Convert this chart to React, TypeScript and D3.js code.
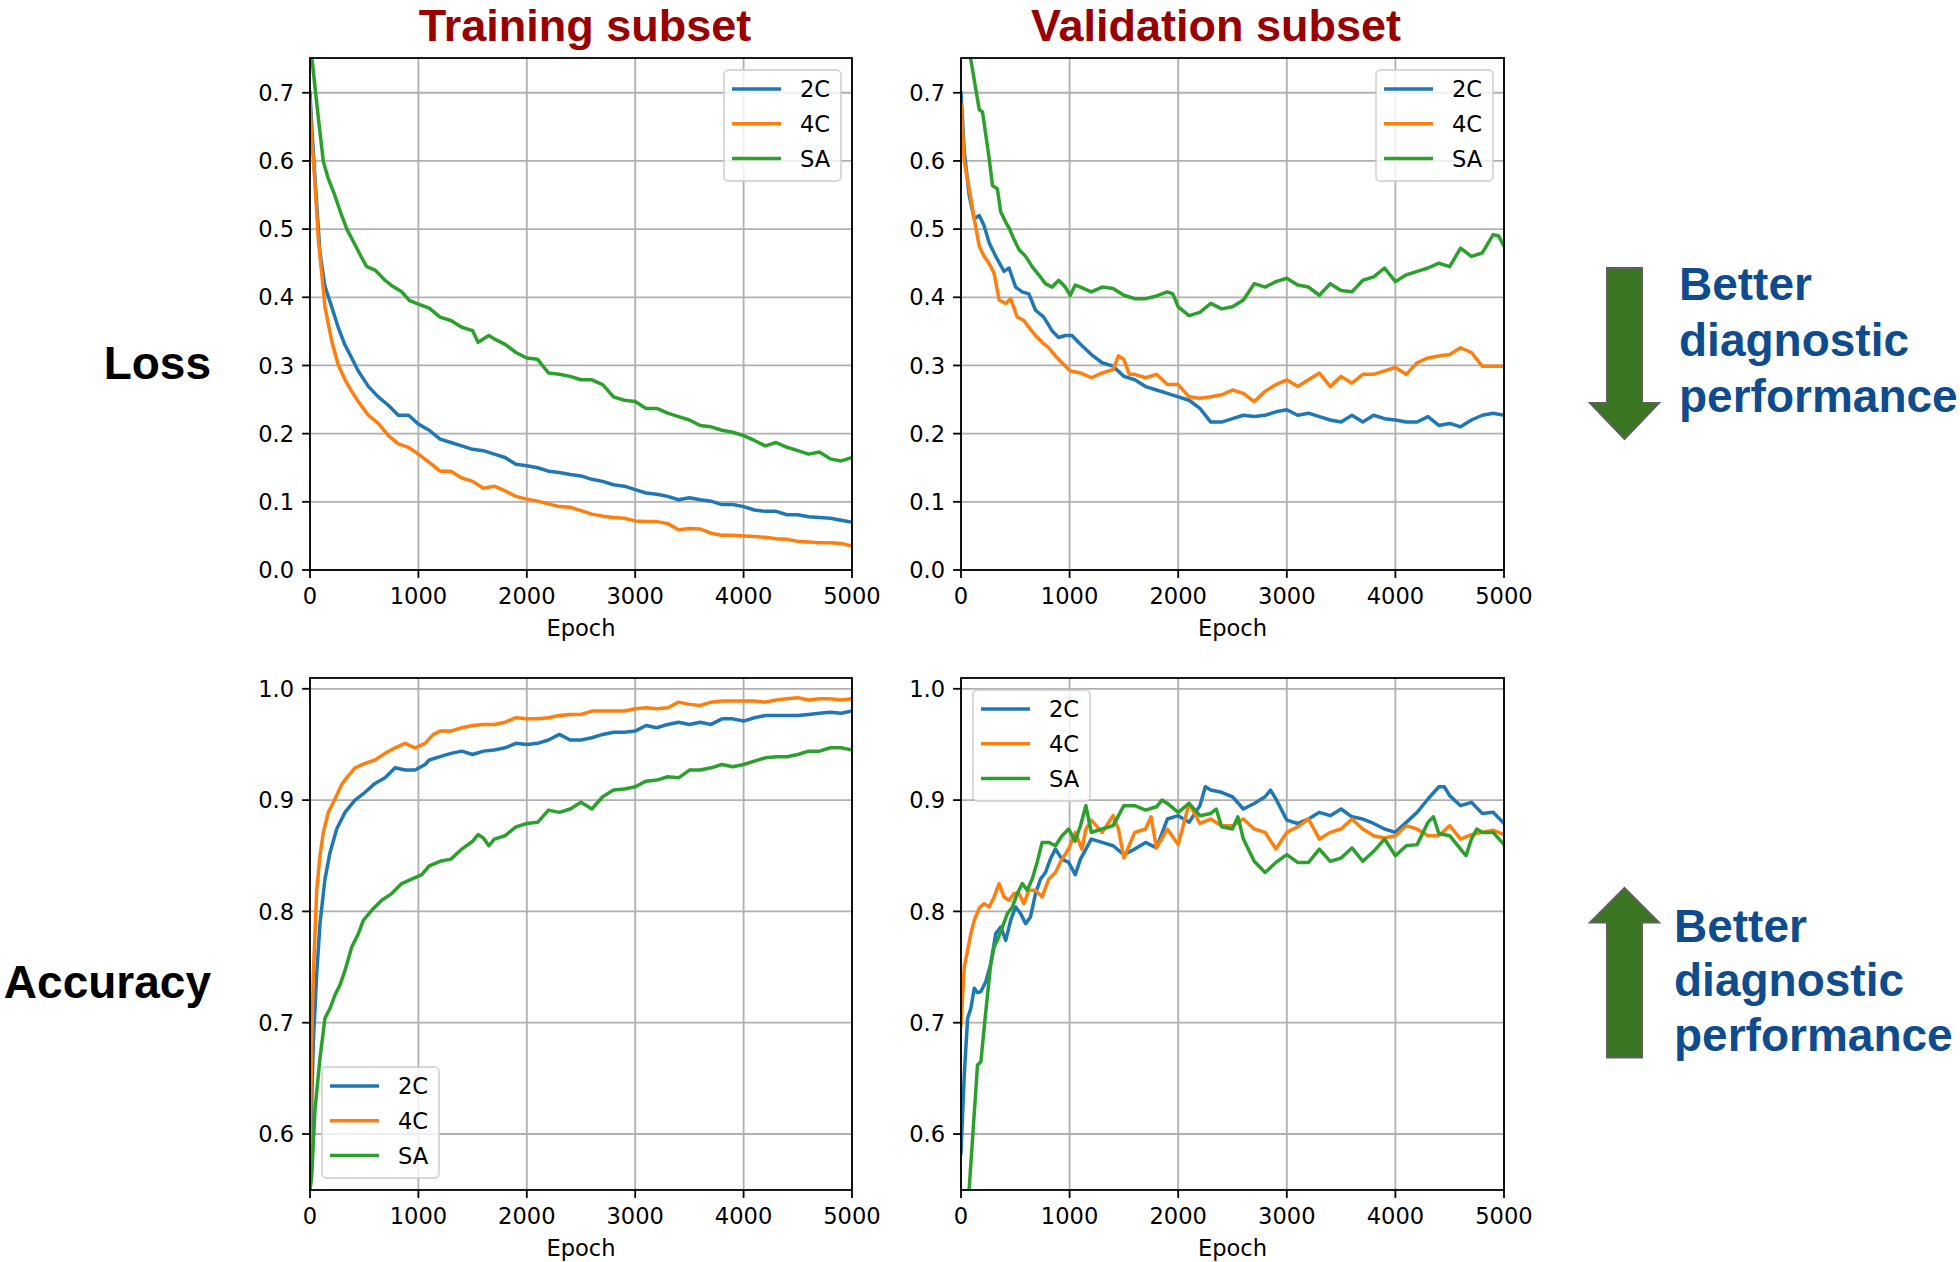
import React from "react";
import * as d3 from "d3";

type Pt = [number, number];

// ---- data ----
const epochTicks = [0, 1000, 2000, 3000, 4000, 5000];
const lossTicks = [0, 0.1, 0.2, 0.3, 0.4, 0.5, 0.6, 0.7];
const accTicks = [0.6, 0.7, 0.8, 0.9, 1.0];
const seriesNames = ["2C", "4C", "SA"];
const seriesColors = ["#1f77b4", "#ff7f0e", "#2ca02c"];
const columnTitles = ["Training subset", "Validation subset"];
const rowTitles = ["Loss", "Accuracy"];
const noteLines = ["Better", "diagnostic", "performance"];

const trainLoss2C: Pt[] = [
  [0, 0.7], [20, 0.64], [46, 0.574], [92, 0.465], [138, 0.416], [200, 0.386], [260, 0.356], [320, 0.331],
  [385, 0.311], [445, 0.292], [540, 0.269], [630, 0.254], [720, 0.242], [815, 0.227], [910, 0.227], [1000, 0.214],
  [1100, 0.205], [1200, 0.192], [1300, 0.187], [1400, 0.182], [1500, 0.177], [1600, 0.175], [1700, 0.17],
  [1800, 0.165], [1900, 0.155], [2000, 0.153], [2100, 0.15], [2200, 0.145], [2300, 0.143], [2400, 0.14],
  [2500, 0.138], [2600, 0.133], [2700, 0.13], [2800, 0.125], [2900, 0.123], [3000, 0.118], [3100, 0.113],
  [3200, 0.111], [3300, 0.108], [3400, 0.103], [3500, 0.106], [3600, 0.103], [3700, 0.101], [3800, 0.096],
  [3900, 0.096], [4000, 0.093], [4100, 0.088], [4200, 0.086], [4300, 0.086], [4400, 0.081], [4500, 0.081],
  [4600, 0.078], [4700, 0.077], [4800, 0.076], [4900, 0.073], [5000, 0.07],
];
const trainLoss4C: Pt[] = [
  [0, 0.69], [15, 0.63], [31, 0.604], [77, 0.485], [138, 0.386], [200, 0.336], [260, 0.301], [323, 0.279],
  [385, 0.262], [446, 0.247], [538, 0.227], [630, 0.215], [723, 0.197], [815, 0.185], [908, 0.18], [1000, 0.17],
  [1100, 0.158], [1200, 0.145], [1300, 0.145], [1400, 0.135], [1500, 0.13], [1600, 0.12], [1700, 0.123],
  [1800, 0.116], [1900, 0.108], [2000, 0.104], [2100, 0.101], [2200, 0.097], [2300, 0.093], [2400, 0.092],
  [2500, 0.087], [2600, 0.082], [2700, 0.079], [2800, 0.077], [2900, 0.076], [3000, 0.072], [3100, 0.071],
  [3200, 0.071], [3300, 0.068], [3400, 0.059], [3500, 0.061], [3600, 0.06], [3700, 0.054], [3800, 0.051],
  [3900, 0.051], [4000, 0.05], [4100, 0.049], [4200, 0.048], [4300, 0.046], [4400, 0.045], [4500, 0.042],
  [4600, 0.041], [4700, 0.04], [4800, 0.04], [4900, 0.039], [5000, 0.035],
];
const trainLossSA: Pt[] = [
  [0, 0.76], [20, 0.747], [77, 0.663], [123, 0.599], [169, 0.574], [230, 0.549], [292, 0.52], [340, 0.5],
  [415, 0.477], [477, 0.458], [523, 0.445], [600, 0.44], [692, 0.425], [754, 0.417], [846, 0.408], [920, 0.395],
  [1000, 0.39], [1100, 0.384], [1200, 0.371], [1300, 0.366], [1400, 0.356], [1500, 0.351], [1550, 0.334],
  [1650, 0.344], [1700, 0.339], [1800, 0.331], [1900, 0.319], [2000, 0.311], [2100, 0.309], [2200, 0.289],
  [2300, 0.287], [2400, 0.284], [2500, 0.279], [2600, 0.279], [2700, 0.272], [2800, 0.254], [2900, 0.249],
  [3000, 0.247], [3100, 0.237], [3200, 0.237], [3300, 0.23], [3400, 0.225], [3500, 0.22], [3600, 0.212],
  [3700, 0.21], [3800, 0.205], [3900, 0.202], [4000, 0.197], [4100, 0.19], [4200, 0.182], [4300, 0.187],
  [4400, 0.18], [4500, 0.175], [4600, 0.17], [4700, 0.173], [4800, 0.163], [4900, 0.16], [5000, 0.165],
];

const valLoss2C: Pt[] = [
  [0, 0.7], [30, 0.614], [76, 0.549], [122, 0.515], [168, 0.52], [213, 0.505], [259, 0.48], [320, 0.46],
  [396, 0.438], [442, 0.443], [503, 0.415], [564, 0.408], [625, 0.405], [686, 0.381], [762, 0.371], [838, 0.351],
  [899, 0.341], [960, 0.344], [1021, 0.344], [1100, 0.331], [1200, 0.316], [1300, 0.304], [1400, 0.299],
  [1500, 0.284], [1600, 0.279], [1700, 0.269], [1800, 0.264], [1900, 0.259], [2000, 0.254], [2100, 0.249],
  [2200, 0.237], [2300, 0.217], [2400, 0.217], [2500, 0.222], [2600, 0.227], [2700, 0.225], [2800, 0.227],
  [2900, 0.232], [3000, 0.235], [3100, 0.227], [3200, 0.23], [3300, 0.225], [3400, 0.22], [3500, 0.217],
  [3600, 0.227], [3700, 0.217], [3800, 0.227], [3900, 0.222], [4000, 0.22], [4100, 0.217], [4200, 0.217],
  [4300, 0.225], [4400, 0.212], [4500, 0.215], [4600, 0.21], [4700, 0.22], [4800, 0.227], [4900, 0.23],
  [5000, 0.227],
];
const valLoss4C: Pt[] = [
  [0, 0.683], [30, 0.599], [76, 0.559], [122, 0.515], [168, 0.475], [213, 0.46], [259, 0.45], [305, 0.435],
  [351, 0.396], [412, 0.391], [457, 0.398], [518, 0.371], [579, 0.366], [625, 0.356], [686, 0.344], [747, 0.334],
  [808, 0.326], [869, 0.314], [930, 0.304], [1006, 0.292], [1100, 0.289], [1200, 0.282], [1300, 0.289],
  [1400, 0.294], [1450, 0.314], [1500, 0.309], [1550, 0.287], [1600, 0.287], [1700, 0.282], [1800, 0.287],
  [1900, 0.272], [2000, 0.272], [2100, 0.254], [2200, 0.252], [2300, 0.254], [2400, 0.257], [2500, 0.264],
  [2600, 0.259], [2700, 0.247], [2800, 0.262], [2900, 0.272], [3000, 0.279], [3100, 0.269], [3200, 0.279],
  [3300, 0.289], [3400, 0.269], [3500, 0.284], [3600, 0.274], [3700, 0.287], [3800, 0.287], [3900, 0.292],
  [4000, 0.297], [4100, 0.287], [4200, 0.304], [4300, 0.311], [4400, 0.314], [4500, 0.316], [4600, 0.326],
  [4700, 0.319], [4800, 0.299], [4900, 0.299], [5000, 0.299],
];
const valLossSA: Pt[] = [
  [0, 0.83], [91, 0.748], [168, 0.675], [198, 0.672], [259, 0.604], [290, 0.564], [335, 0.559], [366, 0.525],
  [412, 0.51], [442, 0.502], [488, 0.485], [534, 0.47], [595, 0.46], [655, 0.445], [716, 0.433], [777, 0.42],
  [838, 0.415], [899, 0.425], [960, 0.415], [1006, 0.403], [1052, 0.418], [1100, 0.415], [1200, 0.408],
  [1300, 0.415], [1400, 0.413], [1500, 0.403], [1600, 0.398], [1700, 0.398], [1800, 0.402], [1900, 0.408],
  [1950, 0.405], [2000, 0.386], [2100, 0.373], [2200, 0.378], [2300, 0.391], [2400, 0.383], [2500, 0.386],
  [2600, 0.396], [2700, 0.42], [2800, 0.415], [2900, 0.423], [3000, 0.428], [3100, 0.418], [3200, 0.415],
  [3300, 0.403], [3400, 0.42], [3500, 0.41], [3600, 0.408], [3700, 0.425], [3800, 0.43], [3900, 0.443],
  [4000, 0.423], [4100, 0.433], [4200, 0.438], [4300, 0.443], [4400, 0.45], [4500, 0.445], [4600, 0.472],
  [4700, 0.46], [4800, 0.465], [4900, 0.492], [4950, 0.49], [5000, 0.475],
];

const trainAcc2C: Pt[] = [
  [0, 0.57], [31, 0.683], [62, 0.744], [92, 0.789], [138, 0.829], [185, 0.853], [246, 0.874], [323, 0.889],
  [415, 0.9], [508, 0.907], [600, 0.915], [692, 0.92], [785, 0.929], [877, 0.927], [969, 0.927], [1062, 0.932],
  [1100, 0.936], [1200, 0.939], [1300, 0.942], [1400, 0.944], [1500, 0.941], [1600, 0.944], [1700, 0.945],
  [1800, 0.947], [1900, 0.951], [2000, 0.95], [2100, 0.951], [2200, 0.954], [2300, 0.959], [2400, 0.954],
  [2500, 0.954], [2600, 0.956], [2700, 0.959], [2800, 0.961], [2900, 0.961], [3000, 0.962], [3100, 0.967],
  [3200, 0.965], [3300, 0.968], [3400, 0.97], [3500, 0.968], [3600, 0.97], [3700, 0.968], [3800, 0.973],
  [3900, 0.973], [4000, 0.971], [4100, 0.974], [4200, 0.976], [4300, 0.976], [4400, 0.976], [4500, 0.976],
  [4600, 0.977], [4700, 0.978], [4800, 0.979], [4900, 0.978], [5000, 0.98],
];
const trainAcc4C: Pt[] = [
  [0, 0.58], [15, 0.683], [31, 0.744], [62, 0.819], [92, 0.85], [123, 0.871], [169, 0.889], [231, 0.901],
  [292, 0.914], [338, 0.92], [415, 0.929], [508, 0.933], [600, 0.936], [692, 0.942], [785, 0.947], [877, 0.951],
  [969, 0.947], [1062, 0.951], [1138, 0.959], [1200, 0.962], [1300, 0.962], [1400, 0.965], [1500, 0.967],
  [1600, 0.968], [1700, 0.968], [1800, 0.97], [1900, 0.974], [2000, 0.973], [2100, 0.973], [2200, 0.974],
  [2300, 0.976], [2400, 0.977], [2500, 0.977], [2600, 0.98], [2700, 0.98], [2800, 0.98], [2900, 0.98],
  [3000, 0.982], [3100, 0.983], [3200, 0.982], [3300, 0.983], [3400, 0.988], [3500, 0.986], [3600, 0.985],
  [3700, 0.988], [3800, 0.989], [3900, 0.989], [4000, 0.989], [4100, 0.989], [4200, 0.988], [4300, 0.99],
  [4400, 0.991], [4500, 0.992], [4600, 0.99], [4700, 0.991], [4800, 0.991], [4900, 0.99], [5000, 0.991],
];
const trainAccSA: Pt[] = [
  [0, 0.55], [15, 0.561], [46, 0.622], [92, 0.668], [138, 0.704], [185, 0.713], [231, 0.725], [277, 0.734],
  [323, 0.747], [385, 0.768], [446, 0.78], [492, 0.792], [569, 0.801], [662, 0.81], [754, 0.816], [846, 0.825],
  [938, 0.829], [1031, 0.833], [1100, 0.841], [1200, 0.845], [1300, 0.847], [1400, 0.856], [1500, 0.863],
  [1550, 0.869], [1600, 0.866], [1650, 0.859], [1700, 0.865], [1800, 0.868], [1900, 0.876], [2000, 0.879],
  [2100, 0.88], [2200, 0.891], [2300, 0.889], [2400, 0.892], [2500, 0.898], [2600, 0.892], [2700, 0.903],
  [2800, 0.909], [2900, 0.91], [3000, 0.912], [3100, 0.917], [3200, 0.918], [3300, 0.921], [3400, 0.92],
  [3500, 0.927], [3600, 0.927], [3700, 0.929], [3800, 0.932], [3900, 0.93], [4000, 0.932], [4100, 0.935],
  [4200, 0.938], [4300, 0.939], [4400, 0.939], [4500, 0.941], [4600, 0.944], [4700, 0.944], [4800, 0.947],
  [4900, 0.947], [5000, 0.945],
];

const valAcc2C: Pt[] = [
  [0, 0.583], [30, 0.653], [61, 0.704], [91, 0.713], [122, 0.731], [152, 0.727], [183, 0.728], [229, 0.737],
  [274, 0.753], [320, 0.78], [366, 0.786], [412, 0.774], [457, 0.792], [503, 0.804], [549, 0.798], [595, 0.789],
  [640, 0.795], [686, 0.816], [732, 0.829], [778, 0.835], [823, 0.847], [869, 0.856], [930, 0.847], [991, 0.844],
  [1052, 0.833], [1100, 0.847], [1200, 0.865], [1300, 0.862], [1400, 0.859], [1500, 0.851], [1600, 0.856],
  [1700, 0.862], [1800, 0.857], [1900, 0.883], [2000, 0.886], [2100, 0.88], [2200, 0.895], [2250, 0.912],
  [2300, 0.909], [2400, 0.907], [2500, 0.903], [2600, 0.892], [2700, 0.897], [2800, 0.903], [2850, 0.909],
  [2900, 0.901], [3000, 0.882], [3100, 0.879], [3200, 0.883], [3300, 0.889], [3400, 0.886], [3500, 0.892],
  [3600, 0.885], [3700, 0.883], [3800, 0.879], [3900, 0.874], [4000, 0.871], [4100, 0.88], [4200, 0.889],
  [4300, 0.901], [4400, 0.912], [4450, 0.912], [4500, 0.904], [4600, 0.895], [4700, 0.898], [4800, 0.888],
  [4900, 0.889], [5000, 0.879],
];
const valAcc4C: Pt[] = [
  [0, 0.698], [30, 0.75], [61, 0.765], [91, 0.78], [122, 0.792], [168, 0.803], [213, 0.807], [259, 0.804],
  [305, 0.813], [351, 0.825], [396, 0.813], [442, 0.81], [488, 0.816], [534, 0.816], [579, 0.807], [625, 0.819],
  [686, 0.819], [747, 0.813], [808, 0.829], [869, 0.835], [930, 0.847], [991, 0.856], [1052, 0.871],
  [1113, 0.856], [1150, 0.874], [1200, 0.882], [1300, 0.871], [1400, 0.886], [1450, 0.874], [1500, 0.848],
  [1600, 0.871], [1700, 0.874], [1750, 0.885], [1800, 0.857], [1900, 0.874], [2000, 0.86], [2100, 0.897],
  [2200, 0.879], [2300, 0.883], [2400, 0.877], [2500, 0.877], [2600, 0.883], [2700, 0.874], [2800, 0.871],
  [2900, 0.856], [3000, 0.871], [3100, 0.876], [3200, 0.883], [3300, 0.865], [3400, 0.871], [3500, 0.874],
  [3600, 0.883], [3700, 0.874], [3800, 0.868], [3900, 0.866], [4000, 0.868], [4100, 0.877], [4200, 0.874],
  [4300, 0.868], [4400, 0.868], [4500, 0.877], [4600, 0.865], [4700, 0.869], [4800, 0.871], [4900, 0.873],
  [5000, 0.869],
];
const valAccSA: Pt[] = [
  [0, 0.45], [76, 0.552], [152, 0.662], [183, 0.665], [213, 0.695], [244, 0.725], [274, 0.753], [305, 0.768],
  [335, 0.774], [381, 0.786], [427, 0.798], [473, 0.804], [518, 0.816], [564, 0.825], [610, 0.819], [655, 0.829],
  [701, 0.844], [747, 0.862], [808, 0.862], [869, 0.859], [930, 0.868], [991, 0.874], [1050, 0.863],
  [1100, 0.877], [1150, 0.895], [1200, 0.871], [1300, 0.874], [1400, 0.877], [1500, 0.895], [1600, 0.895],
  [1700, 0.891], [1800, 0.894], [1850, 0.9], [1900, 0.897], [2000, 0.889], [2100, 0.897], [2200, 0.886],
  [2300, 0.888], [2350, 0.892], [2400, 0.876], [2500, 0.874], [2550, 0.885], [2600, 0.865], [2700, 0.845],
  [2800, 0.835], [2900, 0.844], [3000, 0.851], [3100, 0.844], [3200, 0.844], [3300, 0.856], [3400, 0.845],
  [3500, 0.848], [3600, 0.857], [3700, 0.845], [3800, 0.854], [3900, 0.865], [4000, 0.85], [4100, 0.859],
  [4200, 0.86], [4300, 0.88], [4350, 0.885], [4400, 0.87], [4500, 0.868], [4600, 0.856], [4650, 0.85],
  [4700, 0.865], [4750, 0.874], [4800, 0.871], [4900, 0.871], [5000, 0.86],
];

// ---- layout ----
const W = 1960;
const H = 1262;
const FONT = "'DejaVu Sans', sans-serif";
const BOLD = "'Liberation Sans', Arial, sans-serif";
const FS = 22.6;
const TICK = 7.9;

type LegendLoc = "upper right" | "upper left" | "lower left";

interface PanelProps {
  id: string;
  x0: number;
  x1: number;
  y0: number;
  y1: number;
  yDomain: [number, number];
  yTicks: number[];
  series: Pt[][];
  legendLoc: LegendLoc;
}

function Panel({ id, x0, x1, y0, y1, yDomain, yTicks, series, legendLoc }: PanelProps) {
  const x = d3.scaleLinear().domain([0, 5000]).range([x0, x1]);
  const y = d3.scaleLinear().domain(yDomain).range([y1, y0]);
  const line = d3
    .line<Pt>()
    .x((d) => x(d[0]))
    .y((d) => y(d[1]))

  // legend box
  const lw = 117
  const lh = 111
  const lx = legendLoc === "upper right" ? x1 - 11 - lw : x0 + 12
  const ly = legendLoc === "lower left" ? y1 - 12 - lh : y0 + 12

  return (
    <g>
      <defs>
        <clipPath id={id}>
          <rect x={x0} y={y0} width={x1 - x0} height={y1 - y0} />
        </clipPath>
      </defs>
      <rect x={x0} y={y0} width={x1 - x0} height={y1 - y0} fill="#fff" />
      {/* grid */}
      {epochTicks.map((t) => (
        <line key={"gx" + t} x1={x(t)} x2={x(t)} y1={y0} y2={y1} stroke="#b0b0b0" strokeWidth={1.8} />
      ))}
      {yTicks.map((t) => (
        <line key={"gy" + t} x1={x0} x2={x1} y1={y(t)} y2={y(t)} stroke="#b0b0b0" strokeWidth={1.8} />
      ))}
      {/* series */}
      <g clipPath={`url(#${id})`}>
        {series.map((s, i) => (
          <path
            key={i}
            d={line(s) ?? ""}
            fill="none"
            stroke={seriesColors[i]}
            strokeWidth={3.5}
            strokeLinejoin="round"
            strokeLinecap="square"
          />
        ))}
      </g>
      {/* spines */}
      <rect x={x0} y={y0} width={x1 - x0} height={y1 - y0} fill="none" stroke="#000" strokeWidth={1.8} />
      {/* x ticks */}
      {epochTicks.map((t) => (
        <g key={"tx" + t}>
          <line x1={x(t)} x2={x(t)} y1={y1} y2={y1 + TICK} stroke="#000" strokeWidth={1.8} />
          <text x={x(t)} y={y1 + 34} textAnchor="middle" fontFamily={FONT} fontSize={FS} fill="#000">
            {t}
          </text>
        </g>
      ))}
      {/* y ticks */}
      {yTicks.map((t) => (
        <g key={"ty" + t}>
          <line x1={x0 - TICK} x2={x0} y1={y(t)} y2={y(t)} stroke="#000" strokeWidth={1.8} />
          <text x={x0 - 15.8} y={y(t) + 8.2} textAnchor="end" fontFamily={FONT} fontSize={FS} fill="#000">
            {d3.format(".1f")(t)}
          </text>
        </g>
      ))}
      <text x={(x0 + x1) / 2} y={y1 + 66} textAnchor="middle" fontFamily={FONT} fontSize={FS} fill="#000">
        Epoch
      </text>
      {/* legend */}
      <g transform={`translate(${lx},${ly})`}>
        <rect width={lw} height={lh} rx={4.5} fill="#fff" fillOpacity={0.8} stroke="#cccccc" strokeOpacity={0.8} strokeWidth={1.8} />
        {seriesNames.map((n, i) => (
          <g key={n} transform={`translate(0,${19 + i * 34.8})`}>
            <line x1={8} x2={57} y1={0} y2={0} stroke={seriesColors[i]} strokeWidth={3.5} />
            <text x={76} y={8.2} fontFamily={FONT} fontSize={FS} fill="#000">
              {n}
            </text>
          </g>
        ))}
      </g>
    </g>
  )
}

function Note({ x, y, dir }: { x: number; y: number; dir: "down" | "up" }) {
  // arrow shape, relative to its top-left
  const shaft = [17, 52]
  const head = [0, 69]
  const pts =
    dir === "down"
      ? [[shaft[0], 0], [shaft[1], 0], [shaft[1], 135], [head[1], 135], [34.5, 171], [head[0], 135], [shaft[0], 135]]
      : [[34.5, 0], [head[1], 34.5], [shaft[1], 34.5], [shaft[1], 169.5], [shaft[0], 169.5], [shaft[0], 34.5], [head[0], 34.5]]
  const textY = dir === "down" ? [32, 88, 144] : [54, 108, 163]
  const textX = dir === "down" ? 89 : 84
  return (
    <g transform={`translate(${x},${y})`}>
      <polygon points={pts.map((p) => p.join(",")).join(" ")} fill="#3a7622" stroke="#5f5f5f" strokeWidth={2} />
      {noteLines.map((l, i) => (
        <text key={l} x={textX} y={textY[i]} fontFamily={BOLD} fontWeight="bold" fontSize={46} fill="#0f4c8e">
          {l}
        </text>
      ))}
    </g>
  )
}

export default function App() {
  const cols = [
    [310, 852],
    [961, 1504],
  ]
  const rows = [
    [58, 570],
    [678, 1190],
  ]
  const lossDomain: [number, number] = [0, 0.751]
  const accDomain: [number, number] = [0.5497, 1.0097]

  return (
    <svg
      width={W}
      height={H}
      viewBox={`0 0 ${W} ${H}`}
      style={{ position: "absolute", left: 0, top: 0, background: "#fff" }}
    >
      <rect width={W} height={H} fill="#fff" />
      <text x={585} y={41} textAnchor="middle" fontFamily={BOLD} fontWeight="bold" fontSize={45} fill="#990000">
        {columnTitles[0]}
      </text>
      <text x={1216} y={41} textAnchor="middle" fontFamily={BOLD} fontWeight="bold" fontSize={45} fill="#990000">
        {columnTitles[1]}
      </text>
      <text x={211} y={379} textAnchor="end" fontFamily={BOLD} fontWeight="bold" fontSize={46} fill="#000">
        {rowTitles[0]}
      </text>
      <text x={211} y={998} textAnchor="end" fontFamily={BOLD} fontWeight="bold" fontSize={46} fill="#000">
        {rowTitles[1]}
      </text>

      <Panel
        id="clip-tl"
        x0={cols[0][0]}
        x1={cols[0][1]}
        y0={rows[0][0]}
        y1={rows[0][1]}
        yDomain={lossDomain}
        yTicks={lossTicks}
        series={[trainLoss2C, trainLoss4C, trainLossSA]}
        legendLoc="upper right"
      />
      <Panel
        id="clip-tr"
        x0={cols[1][0]}
        x1={cols[1][1]}
        y0={rows[0][0]}
        y1={rows[0][1]}
        yDomain={lossDomain}
        yTicks={lossTicks}
        series={[valLoss2C, valLoss4C, valLossSA]}
        legendLoc="upper right"
      />
      <Panel
        id="clip-bl"
        x0={cols[0][0]}
        x1={cols[0][1]}
        y0={rows[1][0]}
        y1={rows[1][1]}
        yDomain={accDomain}
        yTicks={accTicks}
        series={[trainAcc2C, trainAcc4C, trainAccSA]}
        legendLoc="lower left"
      />
      <Panel
        id="clip-br"
        x0={cols[1][0]}
        x1={cols[1][1]}
        y0={rows[1][0]}
        y1={rows[1][1]}
        yDomain={accDomain}
        yTicks={accTicks}
        series={[valAcc2C, valAcc4C, valAccSA]}
        legendLoc="upper left"
      />

      <Note x={1590} y={268} dir="down" />
      <Note x={1590} y={888} dir="up" />
    </svg>
  )
}
